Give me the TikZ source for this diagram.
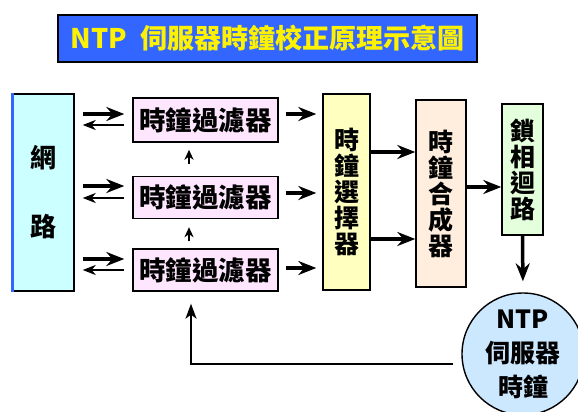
\documentclass[tikz,border=0pt]{standalone}
\usepackage{fontspec}
\setmainfont{Noto Sans CJK TC}
\usetikzlibrary{arrows.meta}
\definecolor{titleblue}{HTML}{3366FF}
\definecolor{netcyan}{HTML}{CCFFFF}
\definecolor{filterpink}{HTML}{FFE6FF}
\definecolor{selyellow}{HTML}{FFFFC0}
\definecolor{combpeach}{HTML}{FFEEDD}
\definecolor{pllgreen}{HTML}{E4FFDC}
\definecolor{clkblue}{HTML}{CCE8FF}
\begin{document}
\begin{tikzpicture}[x=1pt,y=-1pt]
    \tikzset{
      box/.style={draw=black, line width=1.4pt, inner sep=0pt, align=center,
                  font=\fontsize{26.5}{26}\selectfont\bfseries},
      fwd/.style={line width=3.5pt, -{Stealth[length=18pt,width=14pt,inset=6pt]}},
      bwd/.style={line width=2.2pt, -{Stealth[length=13pt,width=10pt,inset=4pt]}},
      tiny/.style={line width=2.2pt, -{Stealth[length=10pt,width=9pt,inset=3pt]}},
    }
    \useasboundingbox (0,0) rectangle (578,412);
    \node [box, fill=titleblue, text=yellow, line width=1.8pt, minimum width=419pt, minimum height=47pt, font=\fontsize{27}{28}\selectfont\bfseries] (title) at (267.5,38.5) {NTP\hspace{0.5em}伺服器時鐘校正原理示意圖};
    \node [box, fill=netcyan, minimum width=61pt, minimum height=197pt, font=\fontsize{26}{69}\selectfont\bfseries] (net) at (43.5,192.5) {網\\路};
    \draw [titleblue, line width=3pt] (net.north west) -- (net.south west);
    \node [box, fill=filterpink, minimum width=145pt, minimum height=44pt] (f1) at (205.5,120) {時鐘過濾器};
    \node [box, fill=filterpink, minimum width=145pt, minimum height=42pt] (f2) at (205.5,197.5) {時鐘過濾器};
    \node [box, fill=filterpink, minimum width=145pt, minimum height=42pt] (f3) at (205.5,270) {時鐘過濾器};
    \node [box, fill=selyellow, minimum width=47pt, minimum height=196pt, font=\fontsize{25}{26}\selectfont\bfseries] (sel) at (346.5,192) {時\\鐘\\選\\擇\\器};
    \node [box, fill=combpeach, minimum width=50pt, minimum height=187pt, font=\fontsize{25}{26}\selectfont\bfseries] (comb) at (441,193.5) {時\\鐘\\合\\成\\器};
    \node [box, fill=pllgreen, minimum width=41pt, minimum height=131pt, font=\fontsize{25}{26}\selectfont\bfseries] (pll) at (522.5,169.5) {鎖\\相\\迴\\路};
    \node [box, circle, fill=clkblue, minimum size=122pt, font=\fontsize{25}{34}\selectfont\bfseries] (clk) at (523,354) {NTP\\伺服器\\時鐘};
    \draw [fwd, shorten <=8pt, shorten >=8pt] (net.east |- 0,114) -- (f1.west |- 0,114);
    \draw [bwd, shorten <=8pt, shorten >=8pt] (f1.west |- 0,125) -- (net.east |- 0,125);
    \draw [fwd, shorten <=8pt, shorten >=8pt] (net.east |- 0,186) -- (f2.west |- 0,186);
    \draw [bwd, shorten <=8pt, shorten >=8pt] (f2.west |- 0,198) -- (net.east |- 0,198);
    \draw [fwd, shorten <=8pt, shorten >=8pt] (net.east |- 0,259) -- (f3.west |- 0,259);
    \draw [bwd, shorten <=8pt, shorten >=8pt] (f3.west |- 0,270) -- (net.east |- 0,270);
    \draw [tiny, shorten <=12pt, shorten >=7pt] ([xshift=-16.5pt]f2.north) -- ([xshift=-16.5pt]f1.south);
    \draw [tiny, shorten <=7pt, shorten >=8pt] ([xshift=-16.5pt]f3.north) -- ([xshift=-16.5pt]f2.south);
    \draw [fwd, shorten <=7pt, shorten >=6pt] (f1.east |- 0,114) -- (sel.west |- 0,114);
    \draw [fwd, shorten <=7pt, shorten >=6pt] (f2.east |- 0,193) -- (sel.west |- 0,193);
    \draw [fwd, shorten <=7pt, shorten >=6pt] (f3.east |- 0,268) -- (sel.west |- 0,268);
    \draw [fwd] (sel.east |- 0,152) -- (comb.west |- 0,152);
    \draw [fwd] (sel.east |- 0,239) -- (comb.west |- 0,239);
    \draw [fwd] (comb.east |- 0,187) -- (pll.west |- 0,187);
    \draw [fwd, shorten >=11pt] (pll.south) -- (clk.north);
    \draw [line width=1.8pt, -{Stealth[length=15pt,width=11pt,inset=4pt]}, shorten <=8pt, shorten >=12pt] (clk.west |- 0,364) -| ([xshift=-14.5pt]f3.south);
\end{tikzpicture}
\end{document}
